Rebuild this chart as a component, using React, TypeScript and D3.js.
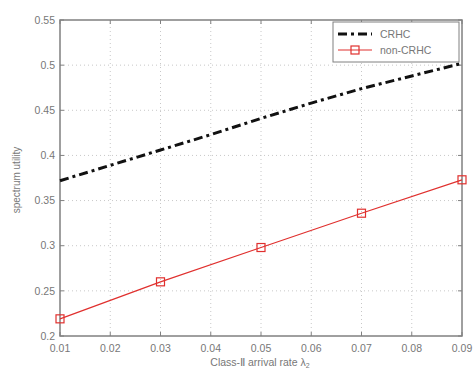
import React, { useEffect, useRef } from 'react';
import * as d3 from 'd3';

const crhcX = [0.01, 0.02, 0.03, 0.04, 0.05, 0.06, 0.07, 0.08, 0.09];
const crhcY = [0.372, 0.389, 0.406, 0.423, 0.441, 0.458, 0.474, 0.488, 0.502];
const nonX = [0.01, 0.03, 0.05, 0.07, 0.09];
const nonY = [0.219, 0.26, 0.298, 0.336, 0.373];
const xTicks = [0.01, 0.02, 0.03, 0.04, 0.05, 0.06, 0.07, 0.08, 0.09];
const yTicks = [0.2, 0.25, 0.3, 0.35, 0.4, 0.45, 0.5, 0.55];

const App = () => {
  const svgRef = useRef<SVGSVGElement>(null);

  useEffect(() => {
    if (!svgRef.current) return;
    const width = 475;
    const height = 373;
    const margin = { top: 20, right: 13, bottom: 37, left: 60 };

    d3.select(svgRef.current).selectAll('*').remove();
    const svg = d3.select(svgRef.current).attr('width', width).attr('height', height);

    const x = d3.scaleLinear().domain([0.01, 0.09]).range([margin.left, width - margin.right]);
    const y = d3.scaleLinear().domain([0.2, 0.55]).range([height - margin.bottom, margin.top]);

    const axisColor = '#808080';
    const textColor = '#777';
    const font = 'Liberation Sans, Arial, sans-serif';

    // grid
    const grid = svg.append('g');
    grid.selectAll('.gx').data(xTicks.slice(1, -1)).enter().append('line')
      .attr('x1', d => x(d)).attr('x2', d => x(d))
      .attr('y1', y(0.2)).attr('y2', y(0.55))
      .attr('stroke', '#c8c8c8').attr('stroke-width', 1).attr('stroke-dasharray', '1,3');
    grid.selectAll('.gy').data(yTicks.slice(1, -1)).enter().append('line')
      .attr('x1', x(0.01)).attr('x2', x(0.09))
      .attr('y1', d => y(d)).attr('y2', d => y(d))
      .attr('stroke', '#c8c8c8').attr('stroke-width', 1).attr('stroke-dasharray', '1,3');

    // box
    svg.append('rect')
      .attr('x', x(0.01)).attr('y', y(0.55))
      .attr('width', x(0.09) - x(0.01)).attr('height', y(0.2) - y(0.55))
      .attr('fill', 'none').attr('stroke', axisColor).attr('stroke-width', 1.5);

    // inward ticks
    const tk = svg.append('g').attr('stroke', axisColor).attr('stroke-width', 1);
    xTicks.forEach(t => {
      tk.append('line').attr('x1', x(t)).attr('x2', x(t)).attr('y1', y(0.2)).attr('y2', y(0.2) - 4);
      tk.append('line').attr('x1', x(t)).attr('x2', x(t)).attr('y1', y(0.55)).attr('y2', y(0.55) + 4);
    });
    yTicks.forEach(t => {
      tk.append('line').attr('x1', x(0.01)).attr('x2', x(0.01) + 4).attr('y1', y(t)).attr('y2', y(t));
      tk.append('line').attr('x1', x(0.09)).attr('x2', x(0.09) - 4).attr('y1', y(t)).attr('y2', y(t));
    });

    // tick labels
    svg.selectAll('.xl').data(xTicks).enter().append('text')
      .attr('x', d => x(d)).attr('y', y(0.2) + 16)
      .attr('text-anchor', 'middle').attr('font-family', font).attr('font-size', 10.5)
      .attr('fill', textColor).text(d => d3.format('.2f')(d));
    svg.selectAll('.yl').data(yTicks).enter().append('text')
      .attr('x', x(0.01) - 5).attr('y', d => y(d)).attr('dy', '0.35em')
      .attr('text-anchor', 'end').attr('font-family', font).attr('font-size', 10.5)
      .attr('fill', textColor).text(d => String(d));

    // axis titles
    const xt = svg.append('text')
      .attr('x', 260).attr('y', height - 7)
      .attr('text-anchor', 'middle').attr('font-family', font).attr('font-size', 10.5)
      .attr('fill', textColor);
    xt.append('tspan').text('Class-Ⅱ   arrival rate λ');
    xt.append('tspan').attr('font-size', 7).attr('dy', 2).text('2');
    svg.append('text')
      .attr('transform', `translate(20,${(y(0.2) + y(0.55)) / 2 + 2}) rotate(-90)`)
      .attr('text-anchor', 'middle').attr('font-family', font).attr('font-size', 10)
      .attr('fill', textColor).text('spectrum utility');

    // lines
    const line = d3.line<[number, number]>().x(d => x(d[0])).y(d => y(d[1]));
    svg.append('path')
      .datum(crhcX.map((v, i) => [v, crhcY[i]] as [number, number]))
      .attr('d', line).attr('fill', 'none').attr('stroke', '#111')
      .attr('stroke-width', 3).attr('stroke-dasharray', '9,4,3,4');
    const nonData = nonX.map((v, i) => [v, nonY[i]] as [number, number]);
    svg.append('path')
      .datum(nonData)
      .attr('d', line).attr('fill', 'none').attr('stroke', '#e0302e').attr('stroke-width', 1.2);
    svg.selectAll('.mk').data(nonData).enter().append('rect')
      .attr('x', d => x(d[0]) - 4).attr('y', d => y(d[1]) - 4)
      .attr('width', 8).attr('height', 8)
      .attr('fill', 'none').attr('stroke', '#e0302e').attr('stroke-width', 1.2);

    // legend
    const lg = svg.append('g').attr('transform', 'translate(333,22)');
    lg.append('rect').attr('width', 126).attr('height', 40)
      .attr('fill', '#fff').attr('stroke', axisColor).attr('stroke-width', 1);
    lg.append('line').attr('x1', 5).attr('x2', 39).attr('y1', 12).attr('y2', 12)
      .attr('stroke', '#111').attr('stroke-width', 3).attr('stroke-dasharray', '9,4,3,4');
    lg.append('text').attr('x', 47).attr('y', 12).attr('dy', '0.35em')
      .attr('font-family', font).attr('font-size', 10.5).attr('fill', textColor).text('CRHC');
    lg.append('line').attr('x1', 5).attr('x2', 39).attr('y1', 28).attr('y2', 28)
      .attr('stroke', '#e0302e').attr('stroke-width', 1.2);
    lg.append('rect').attr('x', 18).attr('y', 24).attr('width', 8).attr('height', 8)
      .attr('fill', 'none').attr('stroke', '#e0302e').attr('stroke-width', 1.2);
    lg.append('text').attr('x', 47).attr('y', 28).attr('dy', '0.35em')
      .attr('font-family', font).attr('font-size', 10.5).attr('fill', textColor).text('non-CRHC');
  }, []);

  return (
    <div style={{ position: 'absolute', left: 0, top: 0 }}>
      <svg ref={svgRef}></svg>
    </div>
  );
};

export default App;
